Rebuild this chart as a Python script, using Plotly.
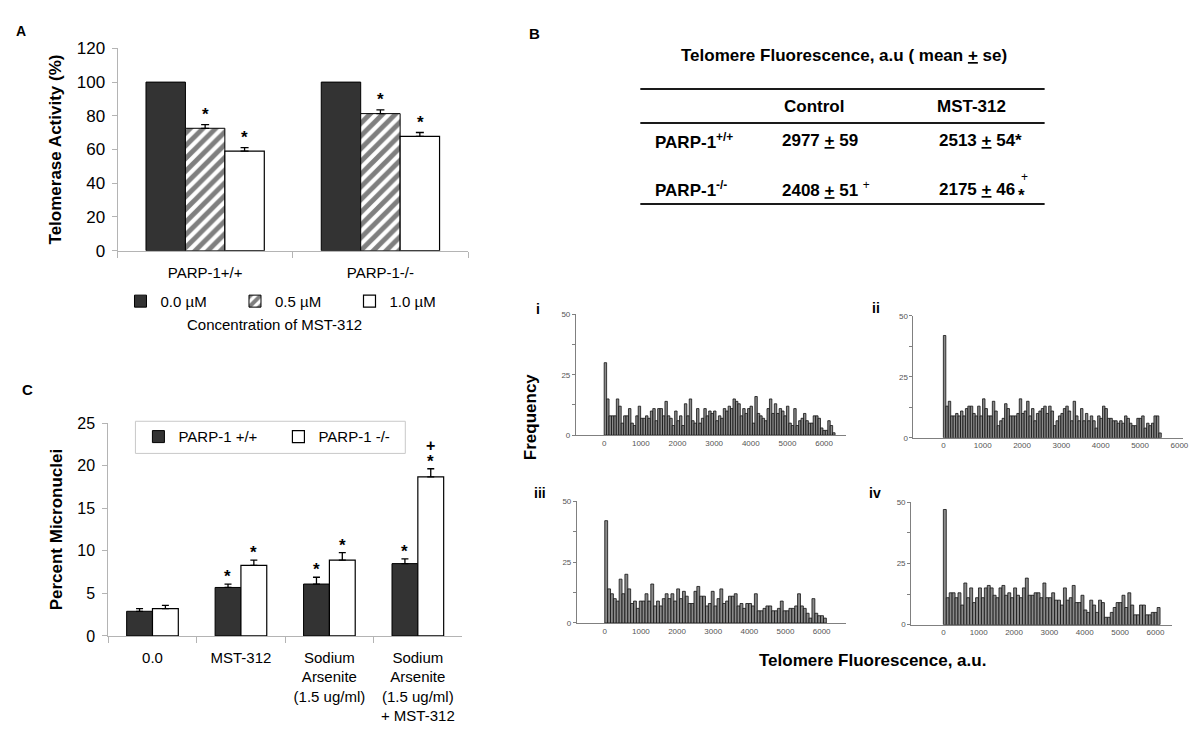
import plotly.graph_objects as go

W, H = 1200, 748
FONT = "Arial, 'Liberation Sans', Helvetica, sans-serif"

# ---------------- data ----------------
# Panel A: telomerase activity (%)
genotypes = ["PARP-1+/+", "PARP-1-/-"]
mst_conc = ["0.0 µM", "0.5 µM", "1.0 µM"]
telo_00 = [100.0, 100.0]
telo_05 = [72.6, 81.3]
telo_10 = [59.0, 67.8]
telo_05_err = [2.2, 2.2]
telo_10_err = [2.1, 2.3]
telo_05_sig = ["*", "*"]
telo_10_sig = ["*", "*"]

# Panel B: telomere fluorescence table
tbl_genotypes = ["PARP-1<sup>+/+</sup>", "PARP-1<sup>-/-</sup>"]
tbl_columns = ["Control", "MST-312"]
fluor_ctrl_mean = [2977, 2408]
fluor_ctrl_se = [59, 51]
fluor_ctrl_sig = ["", "+"]
fluor_mst_mean = [2513, 2175]
fluor_mst_se = [54, 46]
fluor_mst_sig = ["*", "+*"]

# Panel C: percent micronuclei
treatments = ["0.0", "MST-312", "Sodium<br>Arsenite<br>(1.5 ug/ml)",
              "Sodium<br>Arsenite<br>(1.5 ug/ml)<br>+ MST-312"]
c_series_names = ["PARP-1 +/+", "PARP-1 -/-"]
mn_wt = [2.9, 5.7, 6.1, 8.5]
mn_wt_err = [0.3, 0.4, 0.8, 0.55]
mn_ko = [3.2, 8.3, 8.9, 18.7]
mn_ko_err = [0.4, 0.6, 0.9, 0.95]
mn_wt_sig = ["", "*", "*", "*"]
mn_ko_sig = ["", "*", "*", "*"]
mn_ko_sig2 = ["", "", "", "+"]

# Histograms: frequency per telomere fluorescence bin
hist_i = [30, 15, 8, 8, 8, 15, 12, 5, 8, 8, 11, 5, 4, 8, 12, 7, 7, 8, 7, 10, 11, 6, 11, 11, 8,
          14, 8, 7, 4, 10, 6, 8, 4, 13, 8, 15, 6, 5, 11, 5, 7, 11, 8, 10, 9, 10, 6, 8, 7, 11,
          10, 12, 11, 15, 14, 13, 8, 11, 9, 11, 12, 5, 16, 9, 8, 7, 6, 11, 15, 9, 13, 9, 11, 10,
          8, 12, 5, 4, 11, 4, 6, 7, 9, 6, 5, 5, 8, 8, 7, 3, 2, 2, 6, 4, 1]
hist_ii = [42, 13, 15, 9, 9, 10, 9, 11, 9, 12, 13, 13, 10, 9, 13, 9, 16, 12, 9, 9, 15, 11, 5, 7,
           8, 14, 12, 9, 9, 9, 10, 16, 10, 11, 15, 9, 12, 7, 10, 11, 12, 13, 10, 13, 11, 5, 7, 9,
           10, 12, 13, 11, 7, 15, 9, 7, 12, 7, 10, 7, 9, 7, 4, 9, 8, 13, 12, 8, 8, 7, 7, 6, 7, 6,
           9, 8, 6, 5, 5, 8, 8, 9, 4, 6, 5, 6, 9, 9, 2]
hist_iii = [42, 14, 12, 10, 9, 18, 12, 20, 14, 8, 9, 6, 9, 9, 12, 9, 16, 7, 9, 7, 10, 12, 10, 12,
            9, 14, 10, 13, 11, 8, 8, 13, 15, 11, 11, 7, 8, 13, 7, 10, 14, 8, 9, 11, 11, 12, 7, 8,
            6, 8, 8, 7, 12, 5, 5, 6, 7, 7, 5, 5, 6, 9, 5, 5, 6, 6, 7, 12, 7, 6, 4, 2, 10, 4, 3, 3, 2]
hist_iv = [47, 11, 13, 13, 11, 13, 8, 17, 11, 15, 9, 11, 15, 11, 15, 16, 15, 12, 11, 15, 16, 12,
           13, 11, 15, 12, 11, 15, 19, 12, 12, 13, 13, 11, 17, 11, 11, 13, 10, 10, 8, 15, 10, 11,
           16, 9, 9, 12, 6, 5, 10, 8, 5, 10, 9, 3, 3, 5, 7, 9, 9, 12, 7, 13, 8, 4, 4, 8, 8, 4, 4,
           5, 5, 7]
hist_labels = ["i", "ii", "iii", "iv"]
hist_yticks = [0, 25, 50]
hist_yticktext = ["0", "25", "50"]
hist_yminor = [12.5, 37.5]
hist_xticks = [0, 1000, 2000, 3000, 4000, 5000, 6000]
hist_xticktext = ["0", "1000", "2000", "3000", "4000", "5000", "6000"]

# ---------------- layout helpers ----------------
def fx(px):
    return px / W

def fy(py):
    return 1 - py / H

fig = go.Figure()

# ---------------- Panel A ----------------
A_W = 0.225
A_OFF = [-0.3375, -0.1125, 0.1125]
A_DOM = (118, 470)
A_PX_PER_CAT = (A_DOM[1] - A_DOM[0]) / len(genotypes)
a_series = [telo_00, telo_05, telo_10]
a_err = [None, telo_05_err, telo_10_err]
a_sig = [None, telo_05_sig, telo_10_sig]
a_marker = [
    dict(color="#333333", line=dict(color="black", width=1)),
    dict(color="white", line=dict(color="black", width=1),
         pattern=dict(shape="/", fgcolor="black", bgcolor="white", size=9, solidity=0.55)),
    dict(color="white", line=dict(color="black", width=1.2)),
]
for k in range(3):
    err = a_err[k]
    fig.add_trace(go.Bar(
        x=genotypes, y=a_series[k], name=mst_conc[k], width=A_W, offset=A_OFF[k],
        marker=a_marker[k], xaxis="x", yaxis="y", legend="legend",
        error_y=(dict(type="data", array=err, arrayminus=[0] * len(err), symmetric=False,
                      color="black", thickness=1.3, width=4) if err else dict(visible=False)),
    ))

annotations = []
for k in (1, 2):
    for i, g in enumerate(genotypes):
        if a_sig[k][i]:
            annotations.append(dict(
                x=g, y=a_series[k][i] + a_err[k][i], xref="x", yref="y",
                xshift=(A_OFF[k] + A_W / 2) * A_PX_PER_CAT, yanchor="bottom", yshift=-1,
                text="<b>%s</b>" % a_sig[k][i], showarrow=False, font=dict(size=17)))

# ---------------- Panel C ----------------
C_W = 0.292
C_OFF = [-0.292, 0.0]
C_DOM = (108.7, 464)
C_PX_PER_CAT = (C_DOM[1] - C_DOM[0]) / len(treatments)
c_series = [mn_wt, mn_ko]
c_err = [mn_wt_err, mn_ko_err]
c_sig = [mn_wt_sig, mn_ko_sig]
c_marker = [
    dict(color="#333333", line=dict(color="black", width=1)),
    dict(color="white", line=dict(color="black", width=1.2)),
]
for k in range(2):
    fig.add_trace(go.Bar(
        x=treatments, y=c_series[k], name=c_series_names[k], width=C_W, offset=C_OFF[k],
        marker=c_marker[k], xaxis="x2", yaxis="y2", legend="legend2",
        error_y=dict(type="data", array=c_err[k], arrayminus=[0] * len(c_err[k]),
                     symmetric=False, color="black", thickness=1.3, width=3.5),
    ))
    for i, t in enumerate(treatments):
        if c_sig[k][i]:
            annotations.append(dict(
                x=t, y=c_series[k][i] + c_err[k][i], xref="x2", yref="y2",
                xshift=(C_OFF[k] + C_W / 2) * C_PX_PER_CAT, yanchor="bottom", yshift=-4,
                text="<b>%s</b>" % c_sig[k][i], showarrow=False, font=dict(size=17)))
for i, t in enumerate(treatments):
    if mn_ko_sig2[i]:
        annotations.append(dict(
            x=t, y=mn_ko[i] + mn_ko_err[i], xref="x2", yref="y2",
            xshift=(C_OFF[1] + C_W / 2) * C_PX_PER_CAT, yanchor="bottom", yshift=13,
            text="<b>%s</b>" % mn_ko_sig2[i], showarrow=False, font=dict(size=16)))

# ---------------- Histograms ----------------
hists = [hist_i, hist_ii, hist_iii, hist_iv]
hist_span = [6300, 5540, 6130, 6130]
hist_dom_x = [(578.3, 850), (917.3, 1188.3), (579.3, 850), (915, 1176.7)]
hist_dom_y = [(437.3, 313.3), (440, 315), (630, 505), (631.7, 506)]
hist_range_x = [(-772, 6611), (-760, 6101), (-771, 6686), (-910, 6462)]
hist_label_pos = [(540, 308), (880, 307), (542, 497), (879, 497)]
for h, vals in enumerate(hists):
    dx = hist_span[h] / len(vals)
    fig.add_trace(go.Bar(
        x0=0, dx=dx, y=vals, width=dx, offset=0, showlegend=False,
        marker=dict(color="#8a8a8a", line=dict(color="#111111", width=0.8)),
        xaxis="x%d" % (h + 3), yaxis="y%d" % (h + 3),
    ))
    annotations.append(dict(x=fx(hist_label_pos[h][0]), y=fy(hist_label_pos[h][1]),
                            xref="paper", yref="paper", text="<b>%s</b>" % hist_labels[h],
                            showarrow=False, font=dict(size=14), xanchor="center", yanchor="middle"))

# ---------------- Panel B (table) ----------------
TB_FONT = 17
annotations.append(dict(x=fx(848), y=fy(48), xref="paper", yref="paper", showarrow=False,
                        text="<b>Telomere Fluorescence, a.u ( mean <u>+</u> se)</b>",
                        font=dict(size=TB_FONT), xanchor="center", yanchor="middle"))
col_centers = [817, 976]
col_lefts = [783, 941]
for j, c in enumerate(tbl_columns):
    annotations.append(dict(x=fx(col_centers[j]), y=fy(100), xref="paper", yref="paper",
                            showarrow=False, text="<b>%s</b>" % c, font=dict(size=TB_FONT),
                            xanchor="center", yanchor="middle"))
row_y = [135, 185]
for i, g in enumerate(tbl_genotypes):
    annotations.append(dict(x=fx(656), y=fy(row_y[i]), xref="paper", yref="paper",
                            showarrow=False, text="<b>%s</b>" % g, font=dict(size=TB_FONT),
                            xanchor="left", yanchor="middle"))
    ctrl_txt = "<b>%d <u>+</u> %d</b>" % (fluor_ctrl_mean[i], fluor_ctrl_se[i])
    if fluor_ctrl_sig[i]:
        ctrl_txt += " <sup>%s</sup>" % fluor_ctrl_sig[i]
    annotations.append(dict(x=fx(col_lefts[0]), y=fy(row_y[i]), xref="paper", yref="paper",
                            showarrow=False, text=ctrl_txt, font=dict(size=TB_FONT),
                            xanchor="left", yanchor="middle"))
    mst_txt = "<b>%d <u>+</u> %d</b>" % (fluor_mst_mean[i], fluor_mst_se[i])
    sig = fluor_mst_sig[i]
    if sig == "*":
        mst_txt = mst_txt[:-4] + "*</b>"
    annotations.append(dict(x=fx(col_lefts[1]), y=fy(row_y[i]), xref="paper", yref="paper",
                            showarrow=False, text=mst_txt, font=dict(size=TB_FONT),
                            xanchor="left", yanchor="middle"))
    if sig == "+*":
        annotations.append(dict(x=fx(1029), y=fy(172), xref="paper", yref="paper",
                                showarrow=False, text="+", font=dict(size=12),
                                xanchor="center", yanchor="middle"))
        annotations.append(dict(x=fx(1026), y=fy(191), xref="paper", yref="paper",
                                showarrow=False, text="<b>*</b>", font=dict(size=TB_FONT),
                                xanchor="center", yanchor="middle"))

shapes = []
for ly in (82, 117, 200):
    shapes.append(dict(type="line", xref="paper", yref="paper", x0=fx(643), x1=fx(1049),
                       y0=fy(ly), y1=fy(ly), line=dict(color="#1a1a1a", width=2)))
# Legend box of panel C
shapes.append(dict(type="rect", xref="paper", yref="paper", x0=fx(136), x1=fx(407),
                   y0=fy(456), y1=fy(423), line=dict(color="#c8c8c8", width=1)))

# ---------------- other labels ----------------
def lab(x, y, text, size, **kw):
    d = dict(x=fx(x), y=fy(y), xref="paper", yref="paper", text=text, showarrow=False,
             font=dict(size=size), xanchor="center", yanchor="middle")
    d.update(kw)
    annotations.append(d)

lab(21, 23, "<b>A</b>", 14)
lab(537, 25, "<b>B</b>", 15)
lab(28, 390, "<b>C</b>", 15)
lab(276, 324, "Concentration of MST-312", 15)
lab(533, 418, "<b>Frequency</b>", 17, textangle=-90)
lab(876, 668, "<b>Telomere Fluorescence, a.u.</b>", 17)

AX_GRAY = "#b4b4b4"
layout = dict(
    width=W, height=H, margin=dict(l=0, r=0, t=0, b=0),
    paper_bgcolor="white", plot_bgcolor="white",
    font=dict(family=FONT, color="black", size=15),
    barmode="overlay",
    annotations=annotations, shapes=shapes,
    legend=dict(orientation="h", x=fx(121), xanchor="left", y=fy(300), yanchor="middle",
                font=dict(size=15), entrywidth=69.5, entrywidthmode="pixels",
                bgcolor="rgba(0,0,0,0)", borderwidth=0, traceorder="normal"),
    legend2=dict(orientation="h", x=fx(139), xanchor="left", y=fy(439), yanchor="middle",
                 font=dict(size=15), entrywidth=95, entrywidthmode="pixels",
                 bgcolor="rgba(0,0,0,0)", borderwidth=0, traceorder="normal"),
    xaxis=dict(domain=[fx(A_DOM[0]), fx(A_DOM[1])], anchor="y", type="category",
               range=[-0.5, len(genotypes) - 0.5], showline=True, linecolor=AX_GRAY,
               ticks="outside", tickson="boundaries", ticklen=6, tickcolor=AX_GRAY,
               tickfont=dict(size=15), showgrid=False, ticklabelstandoff=8),
    yaxis=dict(domain=[fy(248), fy(40.4)], anchor="x", range=[0, 120], dtick=20, tick0=0,
               showline=True, linecolor=AX_GRAY, ticks="outside", ticklen=5, tickcolor=AX_GRAY,
               tickfont=dict(size=17), showgrid=False, zeroline=False, ticklabelstandoff=3,
               title=dict(text="<b>Telomerase Activity (%)</b>", font=dict(size=17), standoff=10)),
    xaxis2=dict(domain=[fx(C_DOM[0]), fx(C_DOM[1])], anchor="y2", type="category",
                range=[-0.5, len(treatments) - 0.5], showline=True, linecolor=AX_GRAY,
                ticks="outside", tickson="boundaries", ticklen=6, tickcolor=AX_GRAY,
                tickfont=dict(size=15), showgrid=False, ticklabelstandoff=8),
    yaxis2=dict(domain=[fy(643.3), fy(425)], anchor="x2", range=[0, 25], dtick=5, tick0=0,
                showline=True, linecolor=AX_GRAY, ticks="outside", ticklen=5, tickcolor=AX_GRAY,
                tickfont=dict(size=16), showgrid=False, zeroline=False, ticklabelstandoff=4,
                title=dict(text="<b>Percent Micronuclei</b>", font=dict(size=17), standoff=10)),
)
for h in range(4):
    n = h + 3
    layout["xaxis%d" % n] = dict(
        domain=[fx(hist_dom_x[h][0]), fx(hist_dom_x[h][1])], anchor="y%d" % n,
        range=list(hist_range_x[h]), showline=True, linecolor="#808080", linewidth=1,
        ticks="", tickvals=hist_xticks, ticktext=hist_xticktext,
        tickfont=dict(size=8, color="#555555"), showgrid=False, zeroline=False)
    layout["yaxis%d" % n] = dict(
        domain=[fy(hist_dom_y[h][0]), fy(hist_dom_y[h][1])], anchor="x%d" % n,
        range=[0, 50], showline=True, linecolor="#808080", linewidth=1,
        ticks="outside", ticklen=3, tickcolor="#808080", tickvals=hist_yticks,
        ticktext=hist_yticktext, tickfont=dict(size=8, color="#555555"),
        minor=dict(tickvals=hist_yminor, ticks="outside", ticklen=3, tickcolor="#808080"),
        showgrid=False, zeroline=False)

fig.update_layout(**layout)
# remove the default 8px page margin so the figure fills the 1200x748 window exactly
fig.write_html("out.html", config={"displayModeBar": False},
               post_script="document.body.style.margin='0';")
